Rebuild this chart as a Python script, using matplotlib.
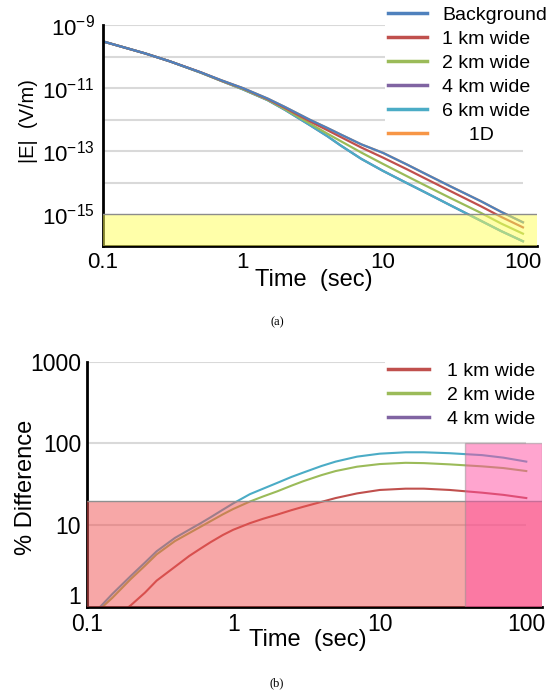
import matplotlib
matplotlib.use('Agg')
import matplotlib.pyplot as plt
from matplotlib.lines import Line2D
from matplotlib.patches import Rectangle
from matplotlib.ticker import FixedLocator, FuncFormatter
import numpy as np

plt.rcParams['font.family'] = ['Liberation Sans', 'DejaVu Sans']

# ---- panel (a): |E| vs time, log10 values
t_a = [0.1, 0.2, 0.3, 0.5, 0.7, 1, 1.5, 2, 3, 4, 5, 7, 10, 15, 20, 30, 50, 70, 100]
logE_bg = [-9.52, -9.90, -10.15, -10.50, -10.75, -11.00, -11.33, -11.60, -12.00, -12.26,
           -12.47, -12.78, -13.05, -13.43, -13.71, -14.10, -14.58, -14.92, -15.25]
logE_1km = [-9.52, -9.90, -10.15, -10.50, -10.76, -11.01, -11.35, -11.63, -12.05, -12.33,
            -12.55, -12.88, -13.20, -13.58, -13.86, -14.25, -14.74, -15.08, -15.41]
logE_2km = [-9.52, -9.90, -10.15, -10.51, -10.77, -11.03, -11.37, -11.67, -12.12, -12.44,
            -12.68, -13.04, -13.40, -13.80, -14.08, -14.47, -14.95, -15.29, -15.61]
logE_6km = [-9.52, -9.90, -10.15, -10.51, -10.77, -11.04, -11.38, -11.69, -12.17, -12.52,
            -12.82, -13.24, -13.62, -14.02, -14.30, -14.70, -15.20, -15.53, -15.85]
logE_4km = logE_6km   # hidden under the 6 km curve
logE_1d = logE_bg     # hidden under the background curve
noise_floor = 1e-15

# ---- panel (b): % difference
t_b = [0.1, 0.12, 0.15, 0.2, 0.25, 0.3, 0.4, 0.5, 0.6, 0.7, 0.85, 1, 1.3, 1.6, 2, 2.5,
       3, 4, 5, 7, 10, 15, 20, 30, 50, 70, 100]
pct_1km = [0.4, 0.5, 0.7, 1.05, 1.5, 2.1, 3.1, 4.2, 5.2, 6.2, 7.6, 8.8, 10.6, 12, 13.5,
           15.3, 16.8, 19.3, 21.5, 24.5, 27, 28, 28, 27, 25, 23.5, 21.5]
pct_2km = [0.7, 0.9, 1.3, 2.2, 3.2, 4.4, 6.4, 8.0, 9.6, 11.2, 13.6, 15.8, 19.5, 22.5, 26,
           30.5, 34.5, 41, 46, 52, 56, 58, 57.5, 55.5, 52.5, 50, 46]
pct_4km = [0.75, 0.95, 1.45, 2.4, 3.5, 4.8, 7.0, 8.8, 10.6, 12.5, 15.5, 18.5, 24, 28, 33,
           39, 44, 53, 60, 69, 75, 78, 78, 76, 72, 67, 60]
pct_limit = 20
late_time = 38

colors = {'Background': '#4F81BD', '1 km wide': '#C0504D', '2 km wide': '#9BBB59',
          '4 km wide': '#8064A2', '6 km wide': '#4BACC6', '1D': '#F79646'}
grid_c = '#D9D9D9'
W, H = 553, 695


def style_axes(ax):
    for s in ['top', 'right']:
        ax.spines[s].set_visible(False)
    for s in ['left', 'bottom']:
        ax.spines[s].set_linewidth(2)
        ax.spines[s].set_color('k')
    ax.tick_params(which='both', length=0)
    ax.minorticks_off()


fig = plt.figure(figsize=(W/100, H/100), dpi=100)

# ---------------- (a)
ax1 = fig.add_axes([103/W, 1-246/H, (537-103)/W, (246-25)/H])
ax1.set_xscale('log')
ax1.set_yscale('log')
ax1.set_xlim(0.1, 126)
ax1.set_ylim(1e-16, 1e-9)
ax1.hlines([10.0**e for e in range(-14, -8)], 0.1, 100, color=grid_c, lw=1.5, zorder=1)
series_a = [('Background', logE_bg), ('1 km wide', logE_1km), ('2 km wide', logE_2km),
            ('4 km wide', logE_4km), ('6 km wide', logE_6km), ('1D', logE_1d)]
zorders = {'Background': 2.5, '1 km wide': 2.4, '2 km wide': 2.3, '4 km wide': 2.1,
           '6 km wide': 2.2, '1D': 2.0}
for name, vals in series_a:
    ax1.plot(t_a, 10.0**np.array(vals), color=colors[name], lw=1.6, zorder=zorders[name])
ax1.axhspan(1e-16, noise_floor, facecolor='#FFFF55', alpha=0.5, lw=0, zorder=3)
ax1.axhline(noise_floor, color='#8C8C8C', lw=1, zorder=3)
style_axes(ax1)
ax1.xaxis.set_major_locator(FixedLocator([0.1, 1, 10, 100]))
ax1.xaxis.set_major_formatter(FuncFormatter(lambda v, p: '%g' % v))
ax1.yaxis.set_major_locator(FixedLocator([1e-15, 1e-13, 1e-11, 1e-9]))
ax1.yaxis.set_major_formatter(FuncFormatter(
    lambda v, p: r'$\mathregular{10^{%d}}$' % int(round(np.log10(v)))))
ax1.tick_params(axis='x', pad=4, labelsize=16)
ax1.tick_params(axis='y', pad=6, labelsize=16)
handles_a = [Line2D([], [], color=colors[n], lw=2.5) for n, _ in series_a]
labels_a = ['Background', '1 km wide', '2 km wide', '4 km wide', '6 km wide', '     1D']
leg1 = ax1.legend(handles_a, labels_a, loc='upper left', bbox_to_anchor=(385/W, 1-3/H),
                  bbox_transform=fig.transFigure, fontsize=14, frameon=True, fancybox=False,
                  edgecolor='none', facecolor='white', framealpha=1, borderpad=0.15,
                  labelspacing=0.33, handlelength=2.0, handletextpad=0.8, borderaxespad=0)
leg1.set_zorder(10)
fig.text(314/W, 1-280/H, 'Time  (sec)', fontsize=17, ha='center', va='center')
fig.text(28/W, 1-121/H, '|E|  (V/m)', fontsize=14.5, ha='center', va='center', rotation=90)
fig.text(277/W, 1-322/H, '(a)', fontsize=9, ha='center', va='center',
         family=['Liberation Serif', 'DejaVu Serif'])

# ---------------- (b)
ax2 = fig.add_axes([86.7/W, 1-607/H, (542-86.7)/W, (607-361.7)/H])
ax2.set_xscale('log')
ax2.set_yscale('log')
ax2.set_xlim(0.1, 128)
ax2.set_ylim(1, 1000)
ax2.hlines([10, 100, 1000], 0.1, 100, color=grid_c, lw=1.5, zorder=1)
ax2.plot(t_b, pct_1km, color=colors['1 km wide'], lw=1.5, zorder=2)
ax2.plot(t_b, pct_2km, color=colors['2 km wide'], lw=1.5, zorder=2)
ax2.plot(t_b, pct_4km, color=colors['6 km wide'], lw=1.5, zorder=2)
ax2.add_patch(Rectangle((0.1, 1), 128-0.1, pct_limit-1, facecolor='#F05050', alpha=0.5,
                        lw=0, zorder=3))
ax2.hlines(pct_limit, 0.1, 128, color='#909090', lw=1, zorder=3)
ax2.add_patch(Rectangle((late_time, 1), 128-late_time, 99, facecolor='#FF4DA1', alpha=0.5,
                        edgecolor='#909090', lw=1, zorder=3))
style_axes(ax2)
ax2.xaxis.set_major_locator(FixedLocator([0.1, 1, 10, 100]))
ax2.xaxis.set_major_formatter(FuncFormatter(lambda v, p: '%g' % v))
ax2.yaxis.set_major_locator(FixedLocator([1, 10, 100, 1000]))
# the lowest label sits a little higher, clear of the "0.1" below it
ax2.yaxis.set_major_formatter(FuncFormatter(lambda v, p: '' if v == 1 else '%g' % v))
ax2.tick_params(axis='x', pad=4, labelsize=16.5)
ax2.tick_params(axis='y', pad=4, labelsize=16.5)
fig.text(81/W, 1-597/H, '1', fontsize=16.5, ha='right', va='center')
handles_b = [Line2D([], [], color=colors[n], lw=2.5) for n in ['1 km wide', '2 km wide', '4 km wide']]
leg2 = ax2.legend(handles_b, ['1 km wide', '2 km wide', '4 km wide'], loc='upper left',
                  bbox_to_anchor=(385/W, 1-359/H), bbox_transform=fig.transFigure,
                  fontsize=14, frameon=True, fancybox=False, edgecolor='none',
                  facecolor='white', framealpha=1, borderpad=0.15, labelspacing=0.33,
                  handlelength=2.1, handletextpad=0.95, borderaxespad=0)
leg2.set_zorder(10)
fig.text(308/W, 1-640/H, 'Time  (sec)', fontsize=17, ha='center', va='center')
fig.text(26.5/W, 1-487/H, '% Difference', fontsize=17, ha='center', va='center', rotation=90)
fig.text(277/W, 1-683/H, '(b)', fontsize=9, ha='center', va='center',
         family=['Liberation Serif', 'DejaVu Serif'])

fig.savefig('out.png', dpi=100)
